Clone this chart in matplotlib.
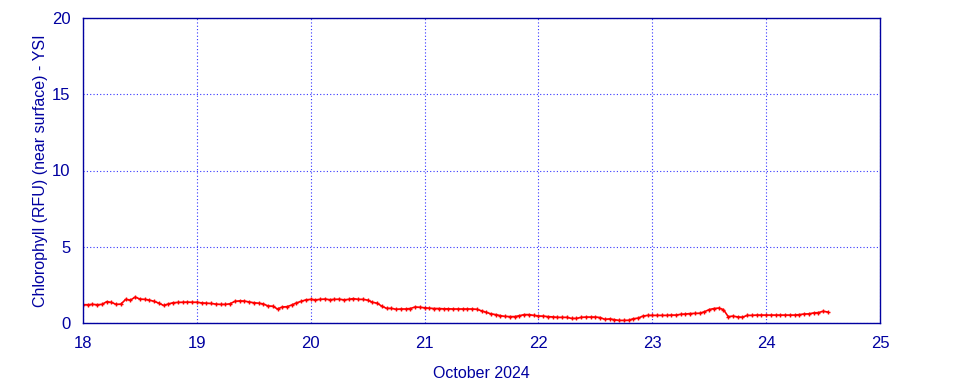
import numpy as np
import matplotlib
matplotlib.use("Agg")
import matplotlib.pyplot as plt

plt.rcParams['font.family'] = ['Liberation Sans', 'DejaVu Sans']

# Hourly chlorophyll readings starting 18 October 2024 00:00
start_day = 18
chl = [
    # Oct 18
    1.20, 1.20, 1.22, 1.20, 1.22, 1.40, 1.35, 1.22, 1.24, 1.55, 1.50, 1.70,
    1.57, 1.55, 1.50, 1.42, 1.30, 1.15, 1.25, 1.33, 1.35, 1.36, 1.37, 1.36,
    # Oct 19
    1.36, 1.32, 1.30, 1.28, 1.24, 1.22, 1.22, 1.26, 1.42, 1.45, 1.44, 1.38,
    1.33, 1.30, 1.25, 1.12, 1.10, 0.92, 1.05, 1.07, 1.18, 1.32, 1.42, 1.52,
    # Oct 20
    1.55, 1.52, 1.55, 1.57, 1.53, 1.55, 1.56, 1.52, 1.55, 1.60, 1.55, 1.55,
    1.50, 1.36, 1.30, 1.10, 0.96, 0.96, 0.90, 0.92, 0.92, 0.95, 1.05, 1.03,
    # Oct 21
    1.00, 0.97, 0.95, 0.95, 0.93, 0.93, 0.92, 0.92, 0.92, 0.92, 0.92, 0.90,
    0.80, 0.70, 0.60, 0.55, 0.48, 0.43, 0.42, 0.42, 0.48, 0.55, 0.55, 0.50,
    # Oct 22
    0.46, 0.45, 0.42, 0.40, 0.37, 0.37, 0.37, 0.30, 0.30, 0.37, 0.39, 0.39,
    0.39, 0.36, 0.24, 0.27, 0.22, 0.17, 0.17, 0.18, 0.28, 0.32, 0.45, 0.50,
    # Oct 23
    0.50, 0.50, 0.50, 0.50, 0.52, 0.52, 0.57, 0.59, 0.62, 0.63, 0.64, 0.74,
    0.88, 0.95, 0.98, 0.88, 0.42, 0.45, 0.40, 0.38, 0.50, 0.50, 0.52, 0.52,
    # Oct 24
    0.52, 0.52, 0.52, 0.52, 0.52, 0.52, 0.52, 0.55, 0.59, 0.60, 0.66, 0.68,
    0.77, 0.72,
]
x_ticks = [18, 19, 20, 21, 22, 23, 24, 25]
y_ticks = [0, 5, 10, 15, 20]
x_label = "October 2024"
y_label = "Chlorophyll (RFU) (near surface) - YSI"

days = start_day + np.arange(len(chl)) / 24.0

axis_color = '#0000a0'
fig = plt.figure(figsize=(9.6, 3.84), dpi=100)
ax = fig.add_axes([83/960, 1-323/384, (880-83)/960, (323-18)/384])
ax.plot(days, chl, color='#ff0000', lw=1.2, marker='+', ms=3.5, mew=1.0)
ax.set_xlim(18, 25)
ax.set_ylim(0, 20)
ax.set_xticks(x_ticks)
ax.set_yticks(y_ticks)
ax.grid(True, color='#3333ff', linestyle=(0, (1, 2)), linewidth=0.8)
for s in ax.spines.values():
    s.set_color(axis_color)
    s.set_linewidth(1.0)
ax.tick_params(colors=axis_color, labelsize=12, length=0, pad=9)
ax.set_xlabel(x_label, color=axis_color, fontsize=11.5, labelpad=11)
ax.set_ylabel(y_label, color=axis_color, fontsize=11.5, labelpad=3)
fig.savefig('out.png', dpi=100)
